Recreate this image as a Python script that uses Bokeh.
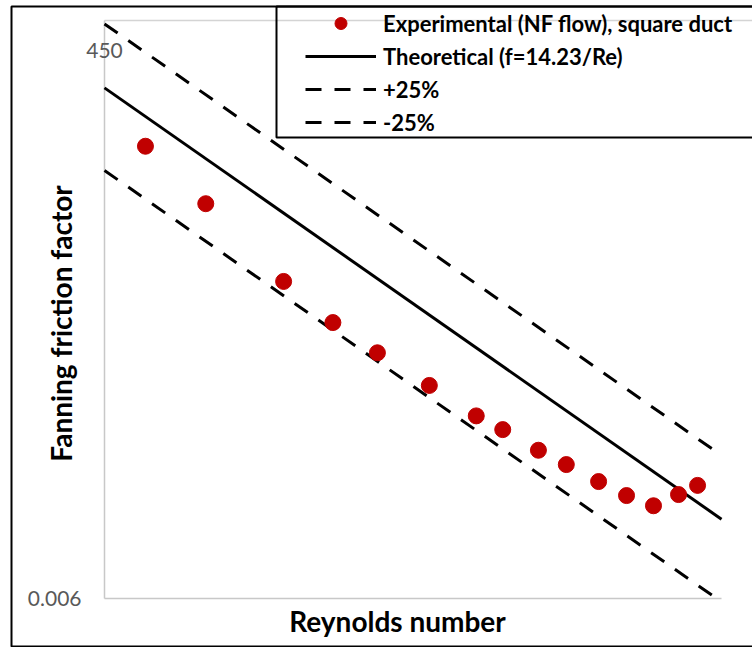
import math
from bokeh.plotting import figure
from bokeh.embed import file_html
from bokeh.resources import INLINE
from bokeh.models import Legend, LegendItem, Label, BoxAnnotation, Range1d

# ---- data ----
re_exp = [442, 512, 619, 698, 778, 883, 990, 1056, 1152, 1233, 1334, 1428, 1525, 1621, 1698]
f_exp = [0.02903, 0.02376, 0.01812, 0.01570, 0.01413, 0.01261, 0.01134, 0.01081,
         0.01006, 0.00957, 0.00902, 0.00859, 0.00829, 0.00862, 0.00890]

re_line = [400, 1800]
f_theory = [0.03558, 0.00791]    # f = 14.23/Re
f_plus25 = [0.04447, 0.00988]    # +25 %
re_lower = [400, 1779]
f_minus25 = [0.02668, 0.00600]   # -25 %

x_min, x_max = 400, 1800         # plot-area extent (Reynolds number)
y_min, y_max = 0.006, 0.045      # plot-area extent (friction factor)
y_tick_labels = ["0.006", "450"]
y_tick_pos = [0.006, 0.0405]

FONT = "Lato"
W, H = 752, 647
# pixel box of the plot area inside the picture
AX_L, AX_R, AX_T, AX_B = 104, 721, 20, 598

lx = math.log10(x_max / x_min) / (AX_R - AX_L)
ly = math.log10(y_max / y_min) / (AX_B - AX_T)
xr = Range1d(x_min * 10 ** (-AX_L * lx), x_min * 10 ** ((W - AX_L) * lx))
yr = Range1d(y_min * 10 ** (-(H - AX_B) * ly), y_max * 10 ** (AX_T * ly))

p = figure(width=W, height=H, x_axis_type="log", y_axis_type="log",
           x_range=xr, y_range=yr, output_backend="svg", toolbar_location=None,
           min_border=0)
p.min_border_left = p.min_border_right = p.min_border_top = p.min_border_bottom = 0
p.outline_line_color = None
p.background_fill_color = "white"
p.border_fill_color = "white"
p.xaxis.visible = False
p.yaxis.visible = False
p.xgrid.visible = False
p.ygrid.visible = False

GRAY = "#C8C8C8"
# top gridline, y axis line, x axis line
p.line([x_min, xr.end], [y_max, y_max], line_color="#D4D4D4", line_width=1.5)
p.line([x_min, x_min], [y_min, y_max], line_color=GRAY, line_width=1.5)
p.line([x_min, x_max], [y_min, y_min], line_color=GRAY, line_width=1.5)

# lines
r_plus = p.line(re_line, f_plus25, line_color="black", line_width=3, line_dash="16 13")
r_minus = p.line(re_lower, f_minus25, line_color="black", line_width=3, line_dash="16 13")
r_theory = p.line(re_line, f_theory, line_color="black", line_width=3)
r_exp = p.scatter(re_exp, f_exp, size=16, marker="circle", fill_color="#C00000",
                  line_color="#C00000")

# tick labels
p.add_layout(Label(x=x_min, y=y_tick_pos[0], x_offset=-23, text=y_tick_labels[0],
                   text_align="right", text_baseline="middle", text_font=FONT,
                   text_font_size="21px", text_color="#595959"))
p.add_layout(Label(x=x_min, y=y_tick_pos[1], text=y_tick_labels[1],
                   text_align="center", text_baseline="middle", text_font=FONT,
                   text_font_size="21px", text_color="#595959"))

# axis titles
p.add_layout(Label(x=397, y=H - 620.5, x_units="screen", y_units="screen",
                   text="Reynolds number", text_align="center", text_baseline="middle",
                   text_font=FONT, text_font_style="bold", text_font_size="28px",
                   text_color="black"))
p.add_layout(Label(x=60, y=H - 323, x_units="screen", y_units="screen",
                   text="Fanning friction factor", angle=math.pi / 2, text_align="center",
                   text_baseline="middle", text_font=FONT, text_font_style="bold",
                   text_font_size="28px", text_color="black"))

legend = Legend(items=[
    LegendItem(label="Experimental (NF flow), square duct", renderers=[r_exp]),
    LegendItem(label="Theoretical (f=14.23/Re)", renderers=[r_theory]),
    LegendItem(label="+25%", renderers=[r_plus]),
    LegendItem(label="-25%", renderers=[r_minus]),
], location=(305, H - 137))
legend.padding = 0
legend.margin = 0
legend.spacing = 3
legend.glyph_width = 71
legend.glyph_height = 30
legend.label_height = 30
legend.label_standoff = 7
legend.border_line_alpha = 0
legend.background_fill_alpha = 0
legend.label_text_font = FONT
legend.label_text_font_style = "bold"
legend.label_text_font_size = "22px"
legend.label_text_color = "black"
p.add_layout(legend)

# legend box (its right side runs off the picture)
p.add_layout(BoxAnnotation(left=276, right=1000, top=H - 6, bottom=H - 137,
                           left_units="screen", right_units="screen",
                           top_units="screen", bottom_units="screen",
                           fill_alpha=0, line_color="black", line_alpha=1, line_width=2))
# outer chart border
p.add_layout(BoxAnnotation(left=11, right=1000, top=H - 6, bottom=1,
                           left_units="screen", right_units="screen",
                           top_units="screen", bottom_units="screen",
                           fill_alpha=0, line_color="black", line_alpha=1, line_width=2))

open("out.html", "w").write(file_html(p, INLINE))
